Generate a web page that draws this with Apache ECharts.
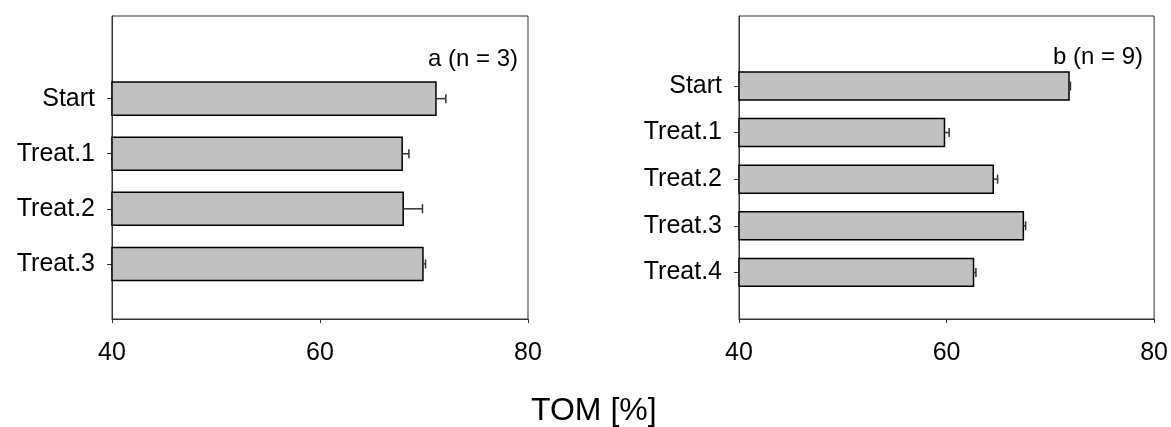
<!DOCTYPE html>
<html>
<head>
<meta charset="utf-8">
<script src="https://cdn.jsdelivr.net/npm/echarts@6/dist/echarts.min.js"></script>
<style>html,body{margin:0;padding:0;background:#fff;}#c{width:1171px;height:427px;}</style>
</head>
<body>
<div id="c"></div>
<script>
// Panel a (n = 3)
var catsA = ['Start', 'Treat.1', 'Treat.2', 'Treat.3'];
var valsA = [71.15, 67.9, 68.0, 69.9];
var errA  = [0.95, 0.65, 1.85, 0.25];
// Panel b (n = 9)
var catsB = ['Start', 'Treat.1', 'Treat.2', 'Treat.3', 'Treat.4'];
var valsB = [71.8, 59.8, 64.5, 67.4, 62.6];
var errB  = [0.14, 0.45, 0.42, 0.22, 0.23];
var xTicks = [40, 60, 80];
var labelA = 'a (n = 3)';
var labelB = 'b (n = 9)';
var axisTitle = 'TOM [%]';

var FONT = '"Liberation Sans", Arial, Helvetica, sans-serif';

function mkData(cats, vals, errs) {
  var n = cats.length;
  return cats.map(function (c, i) { return [vals[i], n - i, errs[i]]; });
}
function positions(cats) {
  var n = cats.length, p = [];
  for (var i = 1; i <= n; i++) p.push(i);
  return p;
}
function yAxis(idx, cats) {
  var n = cats.length;
  return {
    type: 'value', gridIndex: idx, min: 0, max: n + 1.5,
    axisLine: { show: true, lineStyle: { color: '#333', width: 1 } },
    splitLine: { show: false },
    axisTick: { show: true, length: 5, customValues: positions(cats), lineStyle: { color: '#333', width: 1 } },
    axisLabel: {
      show: true, customValues: positions(cats), margin: 17,
      fontSize: 25, color: '#000', fontFamily: FONT,
      formatter: function (v) { var k = Math.round(v); return cats[n - k] || ''; }
    }
  };
}
function xAxis(idx) {
  return {
    type: 'value', gridIndex: idx, min: xTicks[0], max: xTicks[xTicks.length - 1], interval: xTicks[1] - xTicks[0],
    axisLine: { show: true, lineStyle: { color: '#333', width: 1 } },
    splitLine: { show: false },
    axisTick: { show: true, length: 4, lineStyle: { color: '#333', width: 1 } },
    axisLabel: { margin: 22, fontSize: 25, color: '#000', fontFamily: FONT }
  };
}
function renderBar(params, api) {
  var v = api.value(0), pos = api.value(1), e = api.value(2);
  var base = xTicks[0];
  var p0 = api.coord([base, pos]);
  var p1 = api.coord([v, pos]);
  var p2 = api.coord([v + e, pos]);
  var h = api.size([0, 0.6])[1];
  var cap = 9;
  return {
    type: 'group',
    children: [
      { type: 'rect', shape: { x: p0[0], y: p1[1] - h / 2, width: p1[0] - p0[0], height: h },
        style: { fill: '#c0c0c0', stroke: '#000', lineWidth: 1.5 } },
      { type: 'line', shape: { x1: p1[0], y1: p1[1], x2: p2[0], y2: p2[1] },
        style: { stroke: '#333', lineWidth: 1.5 } },
      { type: 'line', shape: { x1: p2[0], y1: p2[1] - cap / 2, x2: p2[0], y2: p2[1] + cap / 2 },
        style: { stroke: '#333', lineWidth: 1.5 } }
    ]
  };
}

var chart = echarts.init(document.getElementById('c'), null, { renderer: 'canvas' });
chart.setOption({
  animation: false,
  backgroundColor: '#fff',
  grid: [
    { left: 112, right: 643, top: 16, bottom: 108, show: true, borderColor: '#333', borderWidth: 1, backgroundColor: 'transparent' },
    { left: 739, right: 16, top: 16, bottom: 108, show: true, borderColor: '#333', borderWidth: 1, backgroundColor: 'transparent' }
  ],
  xAxis: [xAxis(0), xAxis(1)],
  yAxis: [yAxis(0, catsA), yAxis(1, catsB)],
  series: [
    { type: 'custom', xAxisIndex: 0, yAxisIndex: 0, renderItem: renderBar, data: mkData(catsA, valsA, errA), clip: false },
    { type: 'custom', xAxisIndex: 1, yAxisIndex: 1, renderItem: renderBar, data: mkData(catsB, valsB, errB), clip: false }
  ],
  graphic: [
    { type: 'text', right: 1171 - 518, top: 47, style: { text: labelA, fontSize: 24, fill: '#000', fontFamily: FONT } },
    { type: 'text', right: 1171 - 1143, top: 45, style: { text: labelB, fontSize: 24, fill: '#000', fontFamily: FONT } },
    { type: 'text', left: 531, top: 395, style: { text: axisTitle, fontSize: 32, fill: '#000', fontFamily: FONT } }
  ]
});
</script>
</body>
</html>
